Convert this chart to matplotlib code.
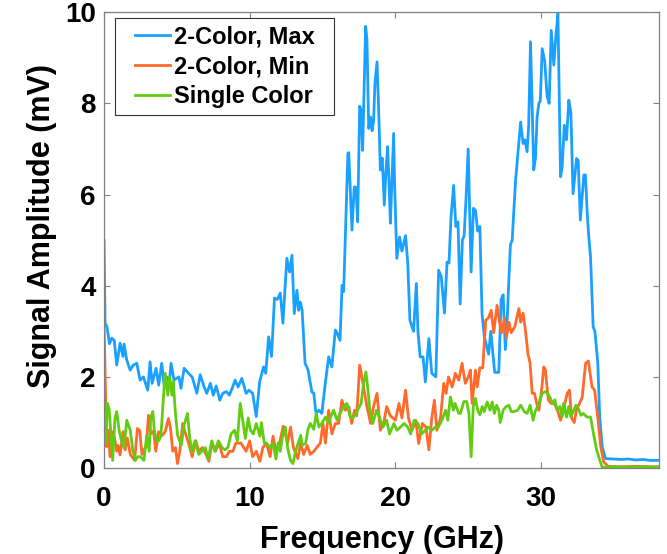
import matplotlib
matplotlib.use("Agg")
import matplotlib.pyplot as plt
from matplotlib.path import Path

# 2-Color, Max (blue)
max_freq = [0, 0.07, 0.2, 0.37, 0.53, 0.7, 0.87, 1.1, 1.3, 1.37, 1.56, 1.79, 2.0, 2.25, 2.47, 2.7,
            3.0, 3.16, 3.3, 3.57, 3.75, 3.96, 4.14, 4.3, 4.45, 4.6, 4.8, 5.14, 5.28, 5.4, 5.5, 5.8,
            6.05, 6.37, 6.6, 6.85, 7.05, 7.3, 7.5, 7.7, 7.95, 8.15, 8.4, 8.6, 8.83, 9.0, 9.2, 9.46,
            9.75, 9.95, 10.2, 10.45, 10.68, 10.95, 11.1, 11.3, 11.5, 11.7, 11.9, 12.1, 12.28, 12.55,
            12.74, 12.9, 13.06, 13.24, 13.36, 13.48, 13.6, 13.8, 14.0, 14.27, 14.4, 14.55, 14.75,
            14.95, 15.19, 15.42, 15.64, 15.88, 16.0, 16.2, 16.34, 16.45, 16.56, 16.74, 16.8, 17.02,
            17.18, 17.3, 17.41, 17.55, 17.65, 17.75, 17.96, 18.05, 18.17, 18.3, 18.4, 18.5, 18.6,
            18.74, 18.85, 18.97, 19.1, 19.24, 19.35, 19.47, 19.57, 19.66, 19.88, 19.95, 20.1, 20.29,
            20.45, 20.7, 20.85, 21.0, 21.25, 21.44, 21.55, 21.7, 21.9, 22.06, 22.3, 22.5, 22.78,
            22.97, 23.15, 23.37, 23.55, 23.68, 23.82, 24.0, 24.15, 24.3, 24.45, 24.6, 24.72, 24.85,
            25.0, 25.2, 25.36, 25.5, 25.65, 25.8, 25.95, 26.1, 26.4, 26.55, 26.7, 26.82, 27.1,
            27.26, 27.4, 27.55, 27.7, 27.8, 27.9, 28.02, 28.25, 28.6, 28.77, 28.9, 29.04,
            29.15, 29.28, 29.38, 29.5, 29.62, 29.73, 29.85, 29.95, 30.08, 30.25, 30.42, 30.56, 30.7,
            30.88, 31.0, 31.16, 31.34, 31.45, 31.6, 31.75, 31.91, 32.05, 32.2, 32.44, 32.55, 32.7,
            32.94, 33.05, 33.17, 33.28, 33.4, 33.58, 33.7, 33.9, 34.03, 34.2, 34.43, 35.0, 35.5,
            36.0, 36.5, 37.0, 37.5, 38.1]
max_amp = [5.0, 3.18, 3.1, 2.73, 2.85, 2.8, 2.26, 2.74, 2.45, 2.72, 2.37, 2.15, 2.26, 2.3, 1.93, 2.0,
           1.71, 2.33, 1.86, 2.19, 1.82, 2.3, 1.78, 2.0, 1.78, 2.3, 1.93, 2.0, 1.75, 2.0, 2.19, 2.08,
           2.0, 1.64, 2.05, 1.8, 1.64, 1.86, 1.6, 1.8, 1.49, 1.64, 1.68, 1.6, 1.78, 1.93, 1.78, 1.97,
           1.64, 1.71, 1.64, 1.13, 1.89, 2.22, 2.08, 2.88, 2.45, 3.73, 3.7, 3.84, 3.18, 4.6,
           4.3, 4.67, 3.39, 3.9, 3.46, 3.64, 3.46, 2.3, 2.16, 1.67, 1.64, 1.2, 1.27,
           1.2, 1.86, 2.44, 2.22, 3.03, 2.97, 2.8, 4.01, 3.87, 5.0, 6.9, 6.92, 5.22,
           6.17, 6.15, 5.4, 7.94, 7.85, 6.97, 9.69, 9.4, 7.45, 7.7, 7.4, 7.6, 8.44,
           8.91, 7.9, 6.54, 6.8, 5.77, 6.5, 7.05, 6.2, 5.37, 7.34, 6.2, 4.6, 5.07,
           4.76, 5.1, 4.5, 3.24, 3.0, 4.05, 3.0, 2.44, 2.44, 1.89, 2.84, 2.08, 2.0,
           4.34, 4.2, 3.4, 4.52, 4.5, 5.5, 6.2, 5.3, 5.4, 3.6, 5.0, 5.1, 5.9,
           7.0, 4.3, 5.7, 5.65, 5.2, 5.3, 3.4, 2.9, 2.5, 3.0, 2.5, 2.1, 2.1,
           3.7, 3.8, 2.6, 3.4, 4.2, 4.9, 5.0, 6.3, 7.59, 7.12, 7.2, 6.94,
           7.5, 9.35, 8.1, 6.54, 6.8, 7.7, 8.0, 8.05, 9.2, 8.93, 8.15, 8.0, 9.6,
           8.84, 9.4, 9.97, 6.39, 6.6, 7.52, 7.2, 8.07, 7.8, 6.02, 6.79, 6.75, 5.44,
           6.43, 6.43, 5.6, 5.07, 4.63, 3.1, 3.0, 2.3, 1.13, 0.47, 0.21, 0.2, 0.19,
           0.2, 0.18, 0.19, 0.17, 0.17]

# 2-Color, Min (orange)
min_freq = [0, 0.1, 0.18, 0.3, 0.41, 0.53, 0.7, 0.87, 0.95, 1.1, 1.3, 1.45, 1.6, 1.8, 2.1, 2.29,
            2.45, 2.6, 2.9, 3.05, 3.2, 3.4, 3.55, 3.75, 4.0, 4.2, 4.42, 4.55, 4.72, 4.9, 5.04, 5.2,
            5.4, 5.55, 5.8, 6.05, 6.3, 6.5, 6.75, 7.0, 7.2, 7.4, 7.65, 7.9, 8.15, 8.4, 8.6, 8.85,
            9.05, 9.4, 9.75, 10.0, 10.2, 10.45, 10.7, 10.9, 11.15, 11.4, 11.6, 11.8, 12.05, 12.3,
            12.4, 12.6, 12.8, 13.0, 13.3, 13.5, 13.7, 13.95, 14.15, 14.4, 14.6, 14.85, 15.03, 15.2,
            15.42, 15.64, 15.88, 16.1, 16.33, 16.56, 16.8, 17.0, 17.2, 17.35, 17.55, 17.7, 17.86,
            18.05, 18.3, 18.5, 18.74, 18.97, 19.2, 19.4, 19.65, 20.0, 20.25, 20.45, 20.7, 20.9,
            21.15, 21.4, 21.6, 21.85, 22.1, 22.3, 22.5, 22.68, 22.85, 23.1, 23.32, 23.48, 23.65,
            23.9, 24.12, 24.35, 24.58, 24.8, 25.0, 25.15, 25.27, 25.5, 25.62, 25.8, 26.0, 26.2,
            26.4, 26.58, 26.75, 26.98, 27.15, 27.3, 27.5, 27.62, 27.8, 27.95, 28.2, 28.48, 28.6,
            28.77, 28.95, 29.1, 29.25, 29.39, 29.55, 29.72, 29.85, 30.05, 30.19, 30.3, 30.5, 30.68,
            30.9, 31.1, 31.34, 31.55, 31.8, 31.95, 32.1, 32.28, 32.45, 32.65, 32.83, 33.06, 33.25,
            33.4, 33.5, 33.68, 33.9, 34.1, 34.3, 34.6, 35.5, 36.5, 37.5, 38.1]
min_amp = [3.18, 1.71, 0.47, 0.83, 0.25, 0.8, 0.7, 0.37, 0.5, 0.29, 0.8, 0.4, 0.66, 0.3, 0.17, 0.87,
           0.82, 0.3, 0.5, 1.16, 0.75, 0.82, 0.37, 0.8, 0.72, 0.8, 1.09, 0.9, 0.37, 0.45, 0.1, 0.37,
           0.98, 0.8, 0.55, 0.25, 0.6, 0.37, 0.45, 0.3, 0.15, 0.55, 0.37, 0.55, 0.25, 0.25, 0.37, 0.37,
           0.55, 0.55, 0.37, 0.6, 0.25, 0.37, 0.15, 0.45, 0.55, 0.25, 0.7, 0.37, 0.55, 0.92,
           0.8, 0.55, 0.9, 0.45, 0.21, 0.55, 0.3, 0.5, 0.3, 0.37, 0.45, 0.55, 0.98, 0.55,
           1.27, 0.75, 0.98, 0.98, 1.49, 1.27, 1.35, 0.98, 1.27, 1.15, 2.26, 2.0, 1.7,
           1.35, 0.98, 1.35, 1.64, 0.83, 0.98, 1.35, 1.15, 1.05, 1.42, 1.1, 1.71, 1.1,
           0.83, 1.05, 0.54, 0.98, 0.9, 0.4, 1.1, 1.49, 0.83, 1.1, 1.86, 1.64, 2.0,
           1.78, 2.08, 1.93, 2.3, 1.86, 2.0, 2.15, 1.42, 2.15, 1.78, 2.2, 2.2, 3.24,
           3.3, 3.46, 2.97, 3.57, 3.2, 2.97, 3.3, 2.85, 3.2, 2.97, 3.1, 3.5, 3.2,
           3.4, 2.97, 2.51, 2.3, 1.64, 1.64, 1.4, 1.27, 1.74, 2.22, 2.15, 1.5, 1.42,
           1.42, 1.3, 1.05, 1.3, 1.64, 1.71, 1.1, 1.0, 1.3, 1.42, 1.56, 2.3, 2.35,
           2.0, 1.78, 1.71, 1.1, 0.47, 0.14, 0.04, 0.03, 0.04, 0.03, 0.03]

# Single Color (green)
single_freq = [0, 0.12, 0.23, 0.35, 0.47, 0.59, 0.75, 0.87, 1.05, 1.2, 1.37, 1.56, 1.8, 1.98, 2.16,
               2.3, 2.5, 2.74, 2.92, 3.1, 3.2, 3.35, 3.45, 3.6, 3.75, 3.9, 4.19, 4.38, 4.5, 4.66,
               4.75, 4.9, 5.05, 5.3, 5.5, 5.73, 5.87, 6.03, 6.25, 6.5, 6.7, 6.95, 7.15, 7.4, 7.6,
               7.85, 8.1, 8.3, 8.5, 8.72, 8.96, 9.15, 9.35, 9.55, 9.7, 9.9, 10.05, 10.25, 10.45,
               10.7, 10.8, 11.0, 11.15, 11.4, 11.6, 11.8, 11.95, 12.1, 12.3, 12.44, 12.6, 12.8,
               12.97, 13.15, 13.5, 13.6, 13.85, 14.0, 14.16, 14.4, 14.57, 14.75, 14.95, 15.2, 15.42,
               15.55, 15.76, 16.0, 16.2, 16.45, 16.67, 16.9, 17.15, 17.4, 17.65, 17.82, 17.98, 18.1,
               18.25, 18.45, 18.7, 18.9, 19.15, 19.4, 19.6, 19.9, 20.1, 20.35, 20.6, 20.85, 21.05,
               21.3, 21.55, 21.8, 22.05, 22.25, 22.5, 22.75, 22.95, 23.2, 23.45, 23.6, 23.78, 23.98,
               24.1, 24.35, 24.47, 24.7, 24.9, 25.05, 25.2, 25.35, 25.5, 25.65, 25.8, 25.96, 26.1,
               26.3, 26.5, 26.65, 26.8, 26.95, 27.1, 27.2, 27.4, 27.6, 27.8, 27.95, 28.15, 28.4,
               28.6, 28.85, 29.05, 29.25, 29.46, 29.6, 29.85, 30.08, 30.3, 30.45, 30.6, 30.8, 30.95,
               31.1, 31.3, 31.45, 31.55, 31.75, 31.9, 32.05, 32.25, 32.4, 32.55, 32.75, 32.9, 33.15,
               33.4, 33.6, 33.82, 34.04, 34.2, 35.0, 36.0, 37.0, 38.1]
single_amp = [1.2, 0.55, 1.42, 1.3, 0.72, 0.17, 1.1, 1.24, 0.8, 0.6, 0.45, 1.05, 0.83, 0.37, 0.17,
              0.25, 0.25, 0.17, 0.7, 0.37, 1.1, 1.24, 0.83, 0.6, 0.6, 0.7, 2.08, 1.6, 2.0, 1.6,
              1.9, 1.2, 0.72, 0.5, 0.95, 1.2, 0.7, 0.35, 0.6, 0.3, 0.37, 0.45, 0.2, 0.6, 0.37,
              0.6, 0.45, 0.4, 0.45, 0.75, 0.83, 0.6, 1.42, 0.98, 0.65, 1.1, 0.83, 0.75, 0.98,
              0.7, 1.0, 0.55, 0.55, 0.45, 0.55, 0.2, 0.55, 0.37, 0.8, 0.9, 0.45, 0.17,
              0.1, 0.37, 0.72, 0.5, 0.55, 0.85, 0.98, 0.85, 1.2, 0.9, 0.98, 1.12, 0.98,
              1.12, 1.27, 1.05, 1.2, 1.35, 1.42, 1.12, 1.12, 1.27, 1.42, 1.86, 2.11, 1.78,
              1.27, 0.98, 1.27, 1.12, 0.9, 1.05, 0.75, 0.98, 0.83, 0.9, 0.98, 0.9, 0.75,
              1.05, 0.98, 0.75, 0.83, 0.9, 0.83, 0.9, 0.9, 1.05, 1.27, 1.05, 1.56, 1.27,
              1.42, 1.2, 1.2, 1.46, 1.46, 1.2, 0.25, 1.35, 1.53, 1.27, 1.17, 1.35, 1.24,
              1.45, 1.27, 1.45, 1.2, 1.38, 1.27, 1.0, 1.27, 1.35, 1.38, 1.24, 1.24, 1.27,
              1.38, 1.24, 1.2, 1.38, 1.05, 1.24, 1.42, 1.64, 1.68, 1.64, 1.56, 1.42, 1.5,
              1.27, 1.35, 1.12, 1.42, 1.12, 1.35, 1.12, 1.27, 1.38, 1.31, 1.16, 1.2, 1.12,
              1.12, 0.76, 0.4, 0.17, 0.02, 0.03, 0.02, 0.03, 0.02]

labels = ["2-Color, Max", "2-Color, Min", "Single Color"]
colors = ["#1AA0FF", "#FF6A2A", "#62CC12"]


def wide_box(x0, y0, width, height, mutation_size):
    # legend frame with a bit more room left and right than top and bottom
    padx = 0.53 * mutation_size
    x1, y1 = x0 + width + padx, y0 + height
    x0 = x0 - padx
    return Path([(x0, y0), (x1, y0), (x1, y1), (x0, y1), (x0, y0)], closed=True)


plt.rcParams['font.family'] = ['Liberation Sans', 'DejaVu Sans']
plt.rcParams['font.weight'] = 'bold'

fig = plt.figure(figsize=(6.67, 5.54), dpi=100)
ax = fig.add_axes([0.156, 0.155, 0.832, 0.823])

ax.plot(max_freq, max_amp, color=colors[0], lw=2.0, label=labels[0])
ax.plot(min_freq, min_amp, color=colors[1], lw=2.0, label=labels[1])
ax.plot(single_freq, single_amp, color=colors[2], lw=2.0, label=labels[2])

ax.set_xlim(0, 38.1)
ax.set_ylim(0, 10)
ax.set_xticks([0, 10, 20, 30])
ax.set_yticks([0, 2, 4, 6, 8, 10])
ax.tick_params(direction='in', top=True, right=True, length=4, width=0.8,
               color='#808080', labelsize=20)
ax.tick_params(axis='x', pad=13)
ax.tick_params(axis='y', pad=6)
for lab in ax.get_xticklabels() + ax.get_yticklabels():
    lab.set_fontweight('bold')
for s in ax.spines.values():
    s.set_color('#808080')
    s.set_linewidth(0.9)

ax.set_xlabel("Frequency (GHz)", fontsize=22, fontweight='bold', labelpad=9)
ax.set_ylabel("Signal Amplitude (mV)", fontsize=22, fontweight='bold')
ax.yaxis.set_label_coords(-0.085, 0.53)

leg = ax.legend(loc='upper left', bbox_to_anchor=(0.0423, 0.987), borderaxespad=0,
                fontsize=17, frameon=True, fancybox=False, edgecolor='#333333',
                framealpha=1, handlelength=1.5, handletextpad=0.15, borderpad=0.3,
                labelspacing=0.3)
leg.get_frame().set_boxstyle(wide_box)
leg.get_frame().set_linewidth(0.8)
for t in leg.get_texts():
    t.set_fontweight('bold')

fig.savefig("out.png", dpi=100)
